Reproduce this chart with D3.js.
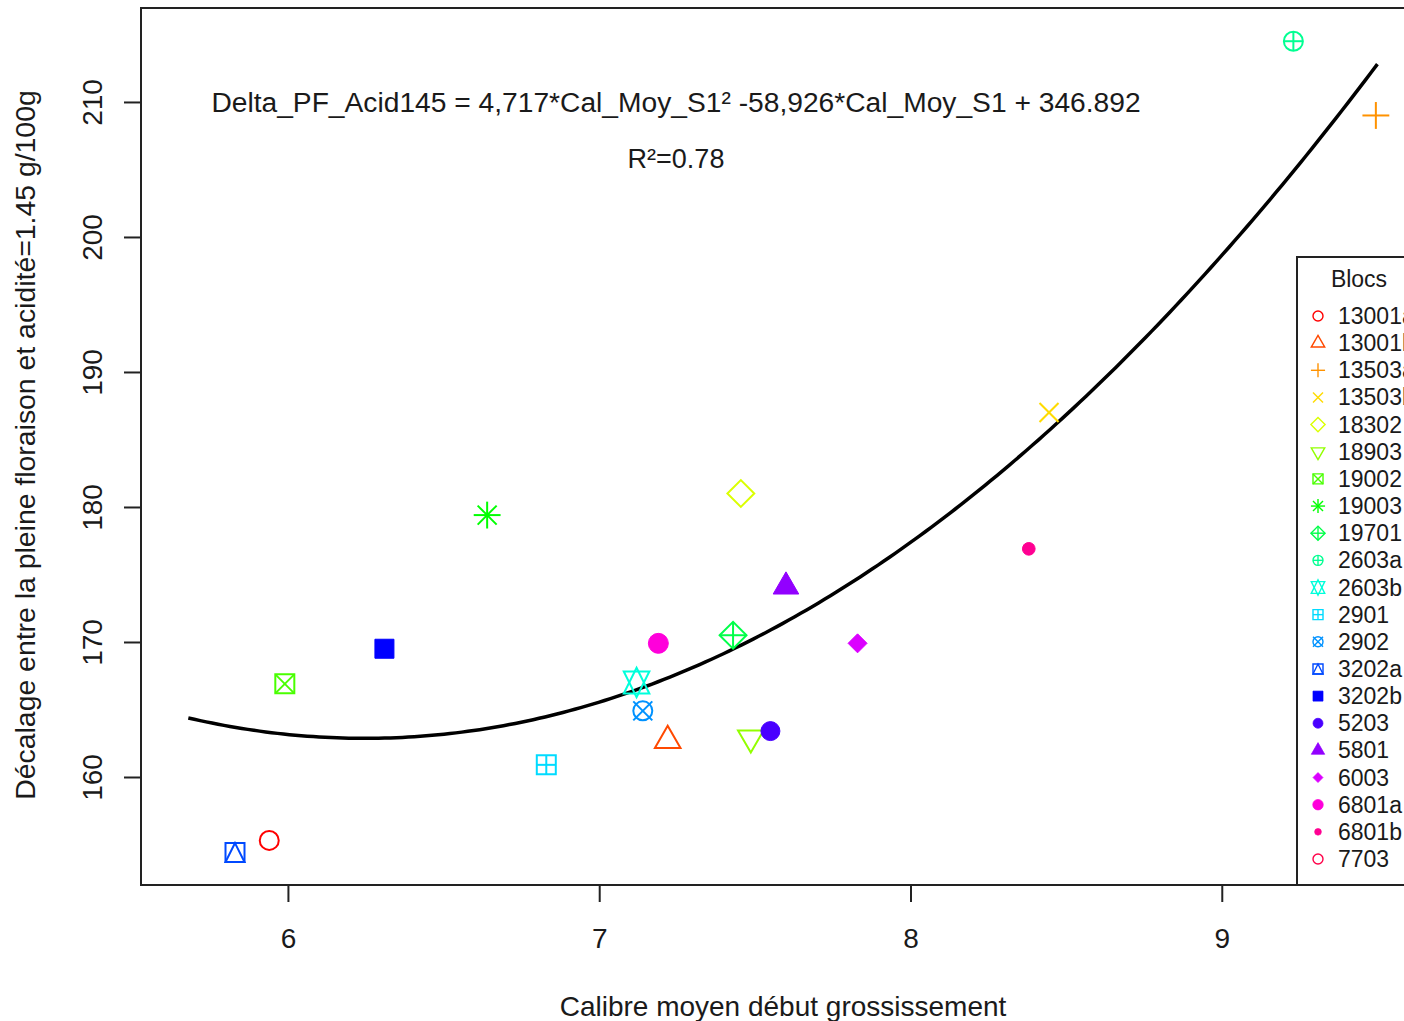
<!DOCTYPE html>
<html>
<head>
<meta charset="utf-8">
<script src="https://cdn.jsdelivr.net/npm/d3@7"></script>
<style>
  body { margin: 0; background: #fff; }
  svg text { font-family: "Liberation Sans", Arial, sans-serif; fill: #1a1a1a; }
</style>
</head>
<body>
<div id="chart"></div>
<script>
// dimensions de la figure
const width = 1404;
const height = 1021;
const box = { left: 141, top: 8, right: 1421, bottom: 885 };

// données
const blocs = ["13001a", "13001b", "13503a", "13503b", "18302", "18903", "19002", "19003", "19701", "2603a",
  "2603b", "2901", "2902", "3202a", "3202b", "5203", "5801", "6003", "6801a", "6801b", "7703"];
const calibre = [5.94, 7.22, 9.495, 8.445, 7.455, 7.487, 5.99, 6.64, 7.43, 9.23,
  7.12, 6.83, 7.14, 5.83, 6.31, 7.55, 7.60, 7.83, 7.19, 8.38, null];
const decalage = [155.3, 162.7, 209.0, 187.0, 181.0, 162.9, 166.9, 179.4, 170.5, 214.5,
  167.0, 160.9, 164.9, 154.4, 169.5, 163.4, 174.1, 169.9, 169.9, 176.9, null];
const pchs = [1, 2, 3, 4, 5, 6, 7, 8, 9, 10, 11, 12, 13, 14, 15, 16, 17, 18, 19, 20, 21];
const couleurs = ["#FF0000", "#FF4900", "#FF9200", "#FFDB00", "#DBFF00", "#92FF00", "#49FF00", "#00FF00", "#00FF49", "#00FF92",
  "#00FFDB", "#00DBFF", "#0092FF", "#0049FF", "#0000FF", "#4900FF", "#9200FF", "#DB00FF", "#FF00DB", "#FF0092", "#FF0049"];

// modèle quadratique affiché
const coefs = [346.892, -58.926, 4.717];
const courbeX = [5.68, 9.5];

const xTicks = [6, 7, 8, 9];
const yTicks = [160, 170, 180, 190, 200, 210];
const xLim = [5.528, 9.64];
const yLim = [152.0, 216.96];

const svg = d3.select("#chart")
    .append("svg")
    .attr("width", width)
    .attr("height", height);

const x = d3.scaleLinear().domain(xLim).range([box.left, box.right]);
const y = d3.scaleLinear().domain(yLim).range([box.bottom, box.top]);

// constantes des symboles R
const SQ2 = Math.SQRT2;
const TRC0 = Math.sqrt(4 * Math.PI / (3 * Math.sqrt(3)));
const TRC1 = TRC0 * Math.sqrt(3) / 2;
const TRC2 = TRC0 / 2;

function symbole(g, pch, r, col, lw) {
    const poly = (pts, plein) => g.append("polygon")
        .attr("points", pts.map(p => p.join(",")).join(" "))
        .attr("fill", plein ? col : "none")
        .attr("stroke", col)
        .attr("stroke-width", plein ? lw * 0.5 : lw)
        .attr("stroke-linejoin", "miter");
    const seg = (x1, y1, x2, y2) => g.append("line")
        .attr("x1", x1).attr("y1", y1).attr("x2", x2).attr("y2", y2)
        .attr("stroke", col).attr("stroke-width", lw);
    const cercle = (rr, plein) => g.append("circle")
        .attr("r", rr)
        .attr("fill", plein ? col : "none")
        .attr("stroke", col)
        .attr("stroke-width", plein ? lw * 0.5 : lw);
    const carre = (h, plein) => poly([[-h, -h], [h, -h], [h, h], [-h, h]], plein);
    const losange = (h, plein) => poly([[-h, 0], [0, -h], [h, 0], [0, h]], plein);
    const plus = h => { seg(-h, 0, h, 0); seg(0, -h, 0, h); };
    const croix = h => { seg(-h, -h, h, h); seg(-h, h, h, -h); };
    const triHaut = plein => poly([[0, -TRC0 * r], [TRC1 * r, TRC2 * r], [-TRC1 * r, TRC2 * r]], plein);
    const yc = 0.5 * (TRC2 + TRC0) * r;

    switch (pch) {
        case 1: cercle(r); break;
        case 2: triHaut(false); break;
        case 3: plus(SQ2 * r); break;
        case 4: croix(r); break;
        case 5: losange(SQ2 * r); break;
        case 6: poly([[0, TRC0 * r], [TRC1 * r, -TRC2 * r], [-TRC1 * r, -TRC2 * r]]); break;
        case 7: carre(r); croix(r); break;
        case 8: croix(r); plus(SQ2 * r); break;
        case 9: losange(SQ2 * r); plus(SQ2 * r); break;
        case 10: cercle(r); plus(r); break;
        case 11:
            poly([[0, TRC0 * r], [TRC1 * r, -yc], [-TRC1 * r, -yc]]);
            poly([[0, -TRC0 * r], [TRC1 * r, yc], [-TRC1 * r, yc]]);
            break;
        case 12: carre(r); plus(r); break;
        case 13: cercle(r); croix(r); break;
        case 14: carre(r); poly([[0, -r], [r, r], [-r, r]]); break;
        case 15: carre(r, true); break;
        case 16: cercle(r, true); break;
        case 17: triHaut(true); break;
        case 18: losange(r, true); break;
        case 19: cercle(r * 1.05, true); break;
        case 20: cercle(r * 2 / 3, true); break;
        case 21: cercle(r); break;
    }
}

// courbe de régression
const xs = d3.range(courbeX[0], courbeX[1] + 1e-9, (courbeX[1] - courbeX[0]) / 200);
svg.append("path")
    .datum(xs)
    .attr("fill", "none")
    .attr("stroke", "#000")
    .attr("stroke-width", 3.5)
    .attr("d", d3.line()
        .x(d => x(d))
        .y(d => y(coefs[0] + coefs[1] * d + coefs[2] * d * d)));

// points
const points = blocs.map((b, i) => ({ bloc: b, cx: calibre[i], cy: decalage[i], pch: pchs[i], col: couleurs[i] }))
    .filter(d => d.cx !== null);

svg.selectAll(".pt")
    .data(points)
    .enter()
    .append("g")
    .attr("class", "pt")
    .attr("transform", d => `translate(${x(d.cx)},${y(d.cy)})`)
    .each(function (d) { symbole(d3.select(this), d.pch, 9.5, d.col, 2); });

// axes
const axeX = svg.append("g")
    .attr("transform", `translate(0,${box.bottom})`)
    .call(d3.axisBottom(x).tickValues(xTicks).tickSize(17).tickFormat(d3.format("d")));
axeX.select(".domain").remove();
axeX.selectAll("line").attr("stroke", "#222").attr("stroke-width", 2);
axeX.selectAll("text")
    .attr("y", 63)
    .attr("dy", null)
    .style("font-size", "28px")
    .attr("font-family", null);

const axeY = svg.append("g")
    .attr("transform", `translate(${box.left},0)`)
    .call(d3.axisLeft(y).tickValues(yTicks).tickSize(17).tickFormat(d3.format("d")));
axeY.select(".domain").remove();
axeY.selectAll("line").attr("stroke", "#222").attr("stroke-width", 2);
axeY.selectAll("text")
    .attr("x", null)
    .attr("dy", null)
    .attr("text-anchor", "middle")
    .attr("transform", "translate(-39,0) rotate(-90)")
    .style("font-size", "28px")
    .attr("font-family", null);

// cadre
svg.append("rect")
    .attr("x", box.left)
    .attr("y", box.top)
    .attr("width", box.right - box.left)
    .attr("height", box.bottom - box.top)
    .attr("fill", "none")
    .attr("stroke", "#222")
    .attr("stroke-width", 2);

// titres des axes
svg.append("text")
    .attr("x", 783)
    .attr("y", 1016)
    .attr("text-anchor", "middle")
    .style("font-size", "28px")
    .text("Calibre moyen début grossissement");

svg.append("text")
    .attr("transform", "translate(35,445) rotate(-90)")
    .attr("text-anchor", "middle")
    .style("font-size", "28.4px")
    .text("Décalage entre la pleine floraison et acidité=1.45 g/100g");

// équation et R²
svg.append("text")
    .attr("x", 676)
    .attr("y", 112)
    .attr("text-anchor", "middle")
    .style("font-size", "28.2px")
    .text("Delta_PF_Acid145 = 4,717*Cal_Moy_S1² -58,926*Cal_Moy_S1 + 346.892");

svg.append("text")
    .attr("x", 676)
    .attr("y", 168)
    .attr("text-anchor", "middle")
    .style("font-size", "27px")
    .text("R²=0.78");

// légende (coupée au bord droit comme l'original)
const leg = svg.append("g").attr("transform", "translate(1297,257)");
leg.append("rect")
    .attr("width", 130)
    .attr("height", box.bottom - 257)
    .attr("fill", "#fff")
    .attr("stroke", "#222")
    .attr("stroke-width", 2);
leg.append("text")
    .attr("x", 62)
    .attr("y", 30)
    .attr("text-anchor", "middle")
    .style("font-size", "23px")
    .text("Blocs");

const items = leg.selectAll(".item")
    .data(blocs.map((b, i) => ({ bloc: b, pch: pchs[i], col: couleurs[i] })))
    .enter()
    .append("g")
    .attr("class", "item")
    .attr("transform", (d, i) => `translate(0,${59 + i * 27.15})`);

items.append("g")
    .attr("transform", "translate(21,0)")
    .each(function (d) { symbole(d3.select(this), d.pch, 5, d.col, 1.4); });

items.append("text")
    .attr("x", 41)
    .attr("y", 8)
    .style("font-size", "23px")
    .text(d => d.bloc);
</script>
</body>
</html>
